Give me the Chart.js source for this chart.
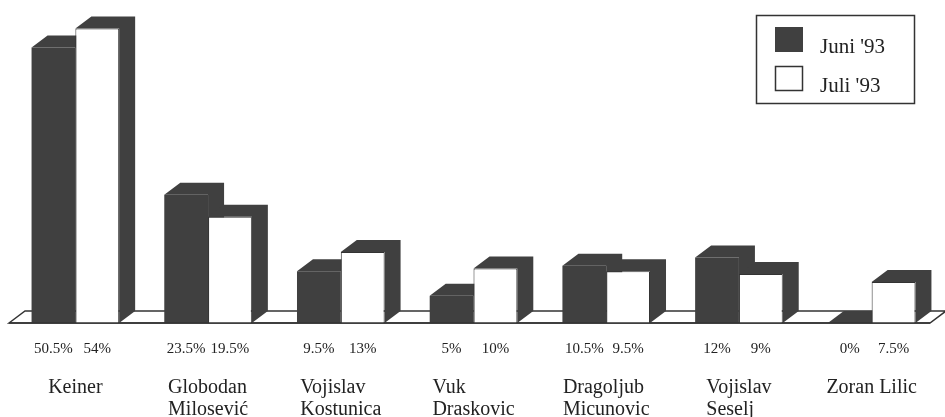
<!DOCTYPE html>
<html>
<head>
<meta charset="utf-8">
<script src="https://cdn.jsdelivr.net/npm/chart.js@4.4.1/dist/chart.umd.min.js"></script>
<style>
html, body { margin: 0; padding: 0; background: #fff; }
canvas { display: block; }
</style>
</head>
<body>
<canvas id="myChart" width="945" height="417"></canvas>
<script>
const categories = [
    ['Keiner'],
    ['Globodan', 'Milosević'],
    ['Vojislav', 'Kostunica'],
    ['Vuk', 'Draskovic'],
    ['Dragoljub', 'Micunovic'],
    ['Vojislav', 'Seselj'],
    ['Zoran Lilic']
];
const juni93 = [50.5, 23.5, 9.5, 5, 10.5, 12, 0];
const juli93 = [54, 19.5, 13, 10, 9.5, 9, 7.5];
const seriesNames = ["Juni '93", "Juli '93"];

const DARK = '#404040';
const INK = '#222';
const SERIF = '"Liberation Serif", "Times New Roman", serif';
// depth of the fake 3d
const DX = 16, DY = -12;

function barBox(bar) {
    const p = bar.getProps(['x', 'y', 'base', 'width'], true);
    return { left: p.x - p.width / 2, right: p.x + p.width / 2, top: Math.min(p.y, p.base), base: p.base, x: p.x };
}

const depthPlugin = {
    id: 'depth',
    beforeDatasetsDraw(chart) {
        const ctx = chart.ctx;
        const area = chart.chartArea;
        const fl = area.left, fr = area.right - 8, fb = area.bottom;

        // floor slab
        ctx.save();
        ctx.beginPath();
        ctx.moveTo(fl, fb);
        ctx.lineTo(fl + DX, fb + DY);
        ctx.lineTo(fr + DX, fb + DY);
        ctx.lineTo(fr, fb);
        ctx.closePath();
        ctx.fillStyle = '#fff';
        ctx.fill();
        ctx.strokeStyle = '#333';
        ctx.lineWidth = 1.5;
        ctx.stroke();

        // top and side faces
        ctx.fillStyle = DARK;
        chart.data.datasets.forEach((ds, di) => {
            chart.getDatasetMeta(di).data.forEach(bar => {
                const b = barBox(bar);
                ctx.beginPath();
                ctx.moveTo(b.left, b.top);
                ctx.lineTo(b.left + DX, b.top + DY);
                ctx.lineTo(b.right + DX, b.top + DY);
                ctx.lineTo(b.right + DX, b.base + DY);
                ctx.lineTo(b.right, b.base);
                ctx.lineTo(b.right, b.top);
                ctx.closePath();
                ctx.fill();
            });
        });
        ctx.restore();
    },
    afterDatasetsDraw(chart) {
        const ctx = chart.ctx;
        const area = chart.chartArea;
        const xScale = chart.scales.x;

        ctx.save();
        // front edge of floor
        ctx.strokeStyle = '#333';
        ctx.lineWidth = 1.5;
        ctx.beginPath();
        ctx.moveTo(area.left, area.bottom);
        ctx.lineTo(area.right - 8, area.bottom);
        ctx.stroke();

        // value labels
        ctx.fillStyle = INK;
        ctx.font = '15px ' + SERIF;
        ctx.textAlign = 'center';
        ctx.textBaseline = 'alphabetic';
        chart.data.datasets.forEach((ds, di) => {
            chart.getDatasetMeta(di).data.forEach((bar, i) => {
                const b = barBox(bar);
                ctx.fillText(ds.data[i] + '%', b.x, area.bottom + 30);
            });
        });

        // category names, lines left aligned, block centred on category
        ctx.font = '20px ' + SERIF;
        ctx.textAlign = 'left';
        categories.forEach((lines, i) => {
            const cx = xScale.getPixelForValue(i);
            const w = Math.max(...lines.map(l => ctx.measureText(l).width));
            lines.forEach((line, k) => {
                ctx.fillText(line, cx - w / 2, area.bottom + 70 + k * 22);
            });
        });

        // legend
        const lx = chart.width - 189, ly = 15;
        ctx.strokeStyle = '#333';
        ctx.lineWidth = 1.5;
        ctx.strokeRect(lx + 0.5, ly + 0.5, 158, 88);
        ctx.font = '21px ' + SERIF;
        chart.data.datasets.forEach((ds, di) => {
            const sy = ly + 12 + di * 39;
            ctx.fillStyle = ds.backgroundColor;
            ctx.fillRect(lx + 19, sy, 28, 25);
            if (ds.borderWidth) {
                ctx.strokeStyle = '#333';
                ctx.strokeRect(lx + 19.5, sy + 0.5, 27, 24);
            }
            ctx.fillStyle = INK;
            ctx.fillText(ds.label, lx + 64, sy + 26);
        });
        ctx.restore();
    }
};

const ctx = document.getElementById('myChart').getContext('2d');

const chart = new Chart(ctx, {
    type: 'bar',
    data: {
        labels: categories,
        datasets: [
            {
                label: seriesNames[0],
                data: juni93,
                backgroundColor: DARK,
                borderWidth: 0
            },
            {
                label: seriesNames[1],
                data: juli93,
                backgroundColor: '#fff',
                borderColor: '#333',
                borderWidth: 1
            }
        ]
    },
    options: {
        responsive: false,
        animation: false,
        devicePixelRatio: 1,
        layout: { padding: { top: 23, bottom: 94, left: 9, right: 7 } },
        datasets: {
            bar: { categoryPercentage: 0.66, barPercentage: 1.0 }
        },
        plugins: {
            legend: { display: false },
            tooltip: { enabled: false }
        },
        scales: {
            x: { display: false },
            y: { display: false, min: 0, max: 55 }
        }
    },
    plugins: [depthPlugin]
});
</script>
</body>
</html>
